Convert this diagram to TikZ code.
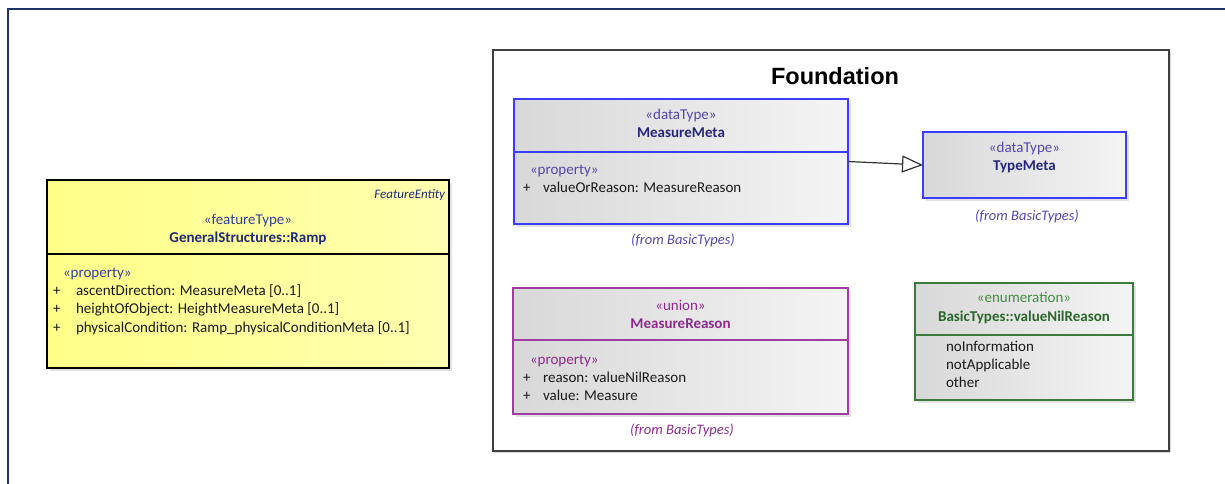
\documentclass[tikz,border=0pt]{standalone}
\usepackage{fontspec}
\setmainfont{Carlito}
\newfontfamily\headfont{Liberation Sans}
\usetikzlibrary{arrows.meta,shadows}

\definecolor{framenavy}{HTML}{1F3468}
\definecolor{pkgline}{HTML}{404040}
\definecolor{dtblue}{HTML}{3C3CFF}
\definecolor{dtname}{HTML}{25257E}
\definecolor{dtstereo}{HTML}{5546AE}
\definecolor{unline}{HTML}{A03CA0}
\definecolor{untext}{HTML}{8E2A8E}
\definecolor{enline}{HTML}{3B7A3B}
\definecolor{enname}{HTML}{2A662A}
\definecolor{enstereo}{HTML}{3F8F3F}
\definecolor{ftname}{HTML}{202A78}
\definecolor{ftstereo}{HTML}{33409E}
\definecolor{attrtext}{HTML}{1A1A1A}
\definecolor{yellowL}{HTML}{FFFF88}
\definecolor{yellowR}{HTML}{FFFFB0}
\definecolor{grayL}{HTML}{D8D8D8}
\definecolor{grayR}{HTML}{F4F4F4}

\begin{document}
\begin{tikzpicture}[x=1pt,y=-1pt,
  every node/.style={inner sep=0pt, outer sep=0pt},
  classbox/.style={draw, line width=1.3pt, left color=grayL, right color=grayR,
    drop shadow={shadow xshift=2.5pt, shadow yshift=-2.5pt, fill=black!22}},
  txt/.style={font=\fontsize{15}{18}\selectfont, anchor=mid, text=attrtext},
  ltxt/.style={txt, anchor=mid west},
  nametxt/.style={txt, font=\fontsize{15}{18}\selectfont\bfseries},
  fromtxt/.style={txt, font=\fontsize{14.5}{17}\selectfont\itshape},
  realize/.style={draw=black!80, line width=1.2pt,
    -{Triangle[open, length=21pt, width=17pt, line width=1.2pt]}}
]
\useasboundingbox (0,0) rectangle (1225,483);

% outer frame (open to the right and bottom)
\coordinate (fTL) at (8,9);
\coordinate (fTR) at (1226,9);
\coordinate (fBL) at (8,484);
\draw[framenavy, line width=2pt] (fTR) -- (fTL) -- (fBL);

% ---------- feature type ----------
\node[classbox, draw=black, left color=yellowL, right color=yellowR,
  minimum width=402pt, minimum height=188pt] (ramp) at (248,274) {};
\coordinate (rampdiv) at (0,254);
\draw[black, line width=1.3pt] (ramp.west |- rampdiv) -- (ramp.east |- rampdiv);
\node[txt, anchor=mid east, font=\fontsize{13}{15}\selectfont\itshape, text=ftname] (rampkw) at (445,196) {FeatureEntity};
\node[txt, text=ftstereo] (rampst) at (248,222.5) {«featureType»};
\node[nametxt, text=ftname] (rampnm) at (248,240.5) {GeneralStructures::Ramp};
\node[ltxt, text=ftstereo] (rampprop) at (63,275) {«property»};
\node[ltxt] (rampp1) at (53,293) {+};
\node[ltxt] (rampa1) at (76,293) {ascentDirection: MeasureMeta [0..1]};
\node[ltxt] (rampp2) at (53,311.5) {+};
\node[ltxt] (rampa2) at (76,311.5) {heightOfObject: HeightMeasureMeta [0..1]};
\node[ltxt] (rampp3) at (53,330) {+};
\node[ltxt] (rampa3) at (76,330) {physicalCondition: Ramp\_physicalConditionMeta [0..1]};

% ---------- package ----------
\node[draw=pkgline, line width=1.3pt, fill=white, minimum width=676pt, minimum height=401pt,
  drop shadow={shadow xshift=1.5pt, shadow yshift=-1.5pt, fill=black!30}] (pkg) at (831,250.5) {};
\node[anchor=mid, font=\headfont\fontsize{23.5}{28}\selectfont\bfseries] (pkgname) at (835,82) {Foundation};

% ---------- MeasureMeta ----------
\node[classbox, draw=dtblue, minimum width=334pt, minimum height=125pt] (mm) at (681,161.5) {};
\coordinate (mmdiv) at (0,152);
\draw[dtblue, line width=1.3pt] (mm.west |- mmdiv) -- (mm.east |- mmdiv);
\node[txt, text=dtstereo] (mmst) at (681,117.5) {«dataType»};
\node[nametxt, text=dtname] (mmnm) at (681,135.5) {MeasureMeta};
\node[ltxt, text=dtstereo] (mmprop) at (530,172.5) {«property»};
\node[ltxt] (mmp1) at (523,190) {+};
\node[ltxt] (mma1) at (543,190) {valueOrReason: MeasureReason};
\node[fromtxt, text=dtstereo] (mmfrom) at (683,242.5) {(from BasicTypes)};

% ---------- TypeMeta ----------
\node[classbox, draw=dtblue, minimum width=203pt, minimum height=66pt] (tm) at (1024.5,165) {};
\node[txt, text=dtstereo] (tmst) at (1024.5,150) {«dataType»};
\node[nametxt, text=dtname] (tmnm) at (1024.5,168) {TypeMeta};
\node[fromtxt, text=dtstereo] (tmfrom) at (1027,218) {(from BasicTypes)};

% ---------- MeasureReason ----------
\node[classbox, draw=unline, minimum width=335pt, minimum height=126pt] (mr) at (680.5,351) {};
\coordinate (mrdiv) at (0,340);
\draw[unline, line width=1.3pt] (mr.west |- mrdiv) -- (mr.east |- mrdiv);
\node[txt, text=untext] (mrst) at (680.5,308) {«union»};
\node[nametxt, text=untext] (mrnm) at (680.5,326) {MeasureReason};
\node[ltxt, text=untext] (mrprop) at (530,362) {«property»};
\node[ltxt] (mrp1) at (523,380) {+};
\node[ltxt] (mra1) at (543,380) {reason: valueNilReason};
\node[ltxt] (mrp2) at (523,398) {+};
\node[ltxt] (mra2) at (543,398) {value: Measure};
\node[fromtxt, text=untext] (mrfrom) at (682,432) {(from BasicTypes)};

% ---------- valueNilReason ----------
\node[classbox, draw=enline, minimum width=218pt, minimum height=117pt] (vn) at (1024,341.5) {};
\coordinate (vndiv) at (0,335);
\draw[enline, line width=1.3pt] (vn.west |- vndiv) -- (vn.east |- vndiv);
\node[txt, text=enstereo] (vnst) at (1024,300.5) {«enumeration»};
\node[nametxt, text=enname] (vnnm) at (1024,319) {BasicTypes::valueNilReason};
\node[ltxt] (vn1) at (946,349) {noInformation};
\node[ltxt] (vn2) at (946,367) {notApplicable};
\node[ltxt] (vn3) at (946,385) {other};

% realization of TypeMeta
\draw[realize] (mm.east) -- (tm.west);
\end{tikzpicture}
\end{document}
